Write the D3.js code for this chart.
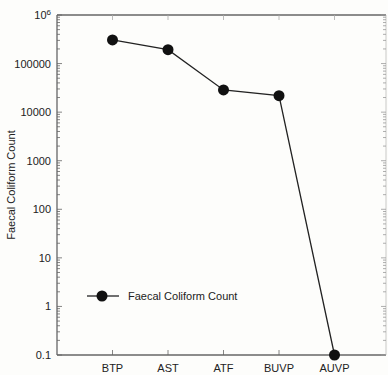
<!DOCTYPE html>
<html><head><meta charset="utf-8">
<script src="https://cdn.jsdelivr.net/npm/d3@7"></script>
<style>body{margin:0;background:#fff}svg{display:block}</style>
</head><body>
<script>
const categories = ["BTP","AST","ATF","BUVP","AUVP"];
const values = [306000, 193000, 28600, 21800, 0.1];
const yTickValues = [0.1, 1, 10, 100, 1000, 10000, 100000, 1000000];
const yTickLabels = ["0.1","1","10","100","1000","10000","100000","10⁶"];
const seriesName = "Faecal Coliform Count";
const yTitle = "Faecal Coliform Count";

const W = 388, H = 375;
const m = {l:57, r:1, t:15, b:20};
const svg = d3.select("body").append("svg").attr("width",W).attr("height",H)
  .style("font-family","'Liberation Sans', Arial, sans-serif");
svg.append("rect").attr("width",W).attr("height",H).attr("fill","#fdfdfb");

const x = d3.scaleLinear().domain([0, 6]).range([m.l, W - m.r + 3]);
const y = d3.scaleLog().domain([0.1, 1e6]).range([H - m.b, m.t]);
const axisCol = "#666";

// frame
const x0 = m.l, x1 = 386, y0 = y(0.1), y1 = y(1e6);
svg.append("line").attr("x1",x0).attr("x2",x1).attr("y1",y1).attr("y2",y1).attr("stroke",axisCol).attr("stroke-width",1.3);
svg.append("line").attr("x1",x0).attr("x2",x1).attr("y1",y0).attr("y2",y0).attr("stroke",axisCol).attr("stroke-width",1.3);
svg.append("line").attr("x1",x0).attr("x2",x0).attr("y1",y1).attr("y2",y0).attr("stroke",axisCol).attr("stroke-width",1.3);
svg.append("line").attr("x1",x1).attr("x2",x1).attr("y1",y1).attr("y2",y0).attr("stroke","#bbb").attr("stroke-width",0.8);

// minor/major y ticks (inward on both sides)
const ticksAll = [];
for (let e = -1; e < 6; e++) for (let k = 1; k < 10; k++) ticksAll.push({v: k*Math.pow(10,e), major: k===1});
ticksAll.push({v:1e6, major:true});
const g = svg.append("g");
ticksAll.forEach(t => {
  const len = t.major ? 5 : 3;
  g.append("line").attr("x1",x0).attr("x2",x0+len).attr("y1",y(t.v)).attr("y2",y(t.v)).attr("stroke",axisCol).attr("stroke-width",0.8);
  g.append("line").attr("x1",x1).attr("x2",x1-len).attr("y1",y(t.v)).attr("y2",y(t.v)).attr("stroke","#999").attr("stroke-width",0.8);
});
// y labels
yTickValues.forEach((v,i) => {
  const t = svg.append("text").attr("x",x0-6).attr("y",y(v)+4).attr("text-anchor","end")
    .attr("font-size",11).attr("fill","#222");
  if (yTickLabels[i] === "10⁶") {
    t.text("10");
    t.append("tspan").attr("font-size",8).attr("dy",-4).text("6");
  } else t.text(yTickLabels[i]);
});
// x ticks & labels
categories.forEach((c,i) => {
  const xp = x(i+1);
  svg.append("line").attr("x1",xp).attr("x2",xp).attr("y1",y0).attr("y2",y0-5).attr("stroke",axisCol).attr("stroke-width",0.8);
  svg.append("line").attr("x1",xp).attr("x2",xp).attr("y1",y1).attr("y2",y1+5).attr("stroke","#aaa").attr("stroke-width",0.8);
  svg.append("text").attr("x",xp).attr("y",H-3).attr("text-anchor","middle").attr("font-size",11).attr("fill","#222").text(c);
});
// y title
svg.append("text").attr("transform",`translate(15,${(y0+y1)/2}) rotate(-90)`).attr("text-anchor","middle")
  .attr("font-size",11).attr("fill","#222").text(yTitle);

// series
const line = d3.line().x((d,i)=>x(i+1)).y(d=>y(d));
svg.append("path").attr("d",line(values)).attr("fill","none").attr("stroke","#222").attr("stroke-width",1.3);
svg.selectAll("circle.pt").data(values).join("circle").attr("class","pt")
  .attr("cx",(d,i)=>x(i+1)).attr("cy",d=>y(d)).attr("r",5.5).attr("fill","#111");

// legend
const ly = 296;
svg.append("line").attr("x1",87).attr("x2",119).attr("y1",ly).attr("y2",ly).attr("stroke","#222").attr("stroke-width",1.3);
svg.append("circle").attr("cx",102).attr("cy",ly).attr("r",5.5).attr("fill","#111");
svg.append("text").attr("x",128).attr("y",ly+4).attr("font-size",11).attr("fill","#222").text(seriesName);
</script>
</body></html>
